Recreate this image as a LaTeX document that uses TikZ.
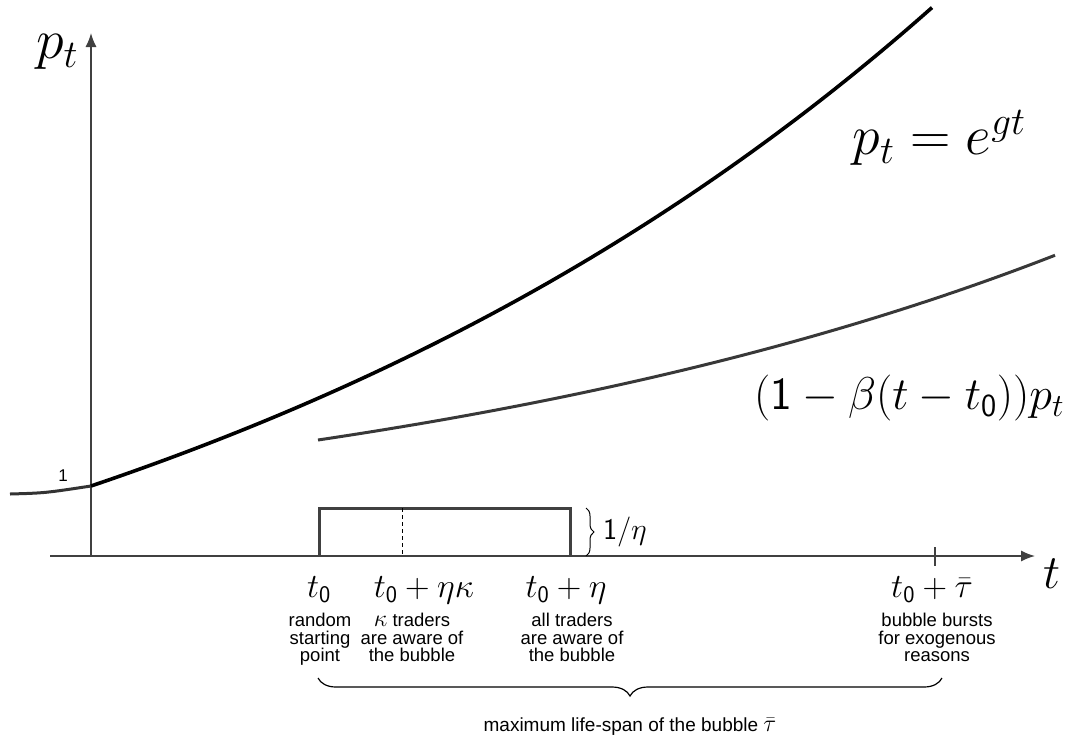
\RequirePackage{fix-cm}
\documentclass[tikz,border=0pt]{standalone}
\usepackage{fontspec}
\newfontfamily\helv{Liberation Sans}
\usetikzlibrary{arrows.meta,decorations.pathreplacing}
\newcommand{\tzero}{t_{\mathsf{0}}}
\newcommand{\bigsym}[1]{{\fontsize{24}{17}\selectfont$#1$}}
\tikzset{
  axis/.style={draw=black!75,line width=1.4pt},
  growth/.style={line width=3.6pt,black},
  lower/.style={line width=3pt,black!78},
  note/.style={font=\helv\fontsize{18.5}{17.5}\selectfont,align=center,anchor=north,inner sep=0pt},
  ticklab/.style={font=\fontsize{34}{40}\selectfont,inner sep=0pt},
  biglab/.style={font=\fontsize{56}{64}\selectfont,inner sep=0pt},
}
\begin{document}
\begin{tikzpicture}[x=1pt,y=-1pt]
\useasboundingbox (0,0) rectangle (1089,745);
% axes
\coordinate (O) at (91,556);
\coordinate (xstart) at (50,556);
\coordinate (xend) at (1035,556);
\coordinate (yend) at (91,33);
\draw[axis,-{Latex[length=14pt,width=11pt]}] (xstart) -- (xend);
\draw[axis,-{Latex[length=14pt,width=11pt]}] (O) -- (yend);
\node[biglab] at (57,52) (plab) {$p_t$};
\node[font=\fontsize{48}{52}\selectfont,inner sep=0pt] at (1052,574) (tlab) {$t$};
\node[font=\helv\fontsize{17}{17}\selectfont,inner sep=0pt] at (63,476) (one) {1};
% growth path and its discounted version
\coordinate (p1) at (91,486);
\draw[line width=3pt,black!80] (10,494) .. controls (45,493) .. (p1);
\draw[growth] plot[domain=91:932,samples=80] ({\x},{486-295.7*(exp(0.00115*(\x-91))-1)});
\draw[lower] plot[domain=318:1055,samples=80] ({\x},{440-115.4*(exp(0.0013*(\x-318))-1)});
\node[biglab] at (939,138) (eqtop) {$p_t = e^{gt}$};
\node[font=\fontsize{46}{52}\selectfont,inner sep=0pt] at (909,398) (eqlow) {$(\mathsf{1}-\beta(t-\tzero))p_t$};
% density of t0
\coordinate (a) at (319,556);
\coordinate (b) at (570,556);
\draw[line width=3pt,black!75] (a) -- (319,508) -- (570,508) -- (b);
\draw[line width=0.8pt,dash pattern=on 4pt off 3pt] (402,508) -- (402,556);
\draw[line width=1pt,decorate,decoration={brace,amplitude=8pt}] (586,508) -- (586,556);
\node[font=\fontsize{30}{34}\selectfont,anchor=west,inner sep=0pt] at (603,532) (dens) {$\mathsf{1}/\eta$};
\draw[axis] (935,547) -- (935,566);
% ticks and what happens there
\node[ticklab] at (319,590) (t0) {$\tzero$};
\node[ticklab] at (424,590) (t1) {$\tzero+\eta\kappa$};
\node[ticklab] at (566,590) (t2) {$\tzero+\eta$};
\node[ticklab] at (932,590) (t3) {$\tzero+\bar\tau$};
\node[note] at (320,613) {random\\starting\\point};
\node[note] at (412,613) {\bigsym{\kappa} traders\\are aware of\\the bubble};
\node[note] at (572,613) {all traders\\are aware of\\the bubble};
\node[note] at (937,613) {bubble bursts\\for exogenous\\reasons};
\draw[line width=1.2pt,decorate,decoration={brace,mirror,amplitude=18pt}] (318,678) -- (942,678);
\node[font=\helv\fontsize{19}{20}\selectfont,inner sep=0pt] at (630,727) (span) {maximum life-span of the bubble \bigsym{\bar\tau}};
\end{tikzpicture}
\end{document}
